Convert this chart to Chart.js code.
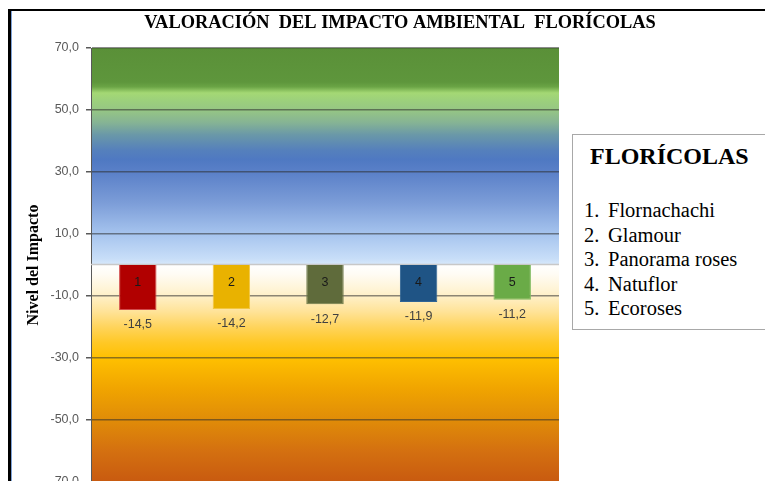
<!DOCTYPE html>
<html>
<head>
<meta charset="utf-8">
<script src="https://cdn.jsdelivr.net/npm/chart.js@4.4.0/dist/chart.umd.min.js"></script>
<style>
html,body{margin:0;padding:0;background:#fff;overflow:hidden;width:765px;height:481px;}
#wrap{position:relative;width:765px;height:481px;overflow:hidden;}
#c{position:absolute;left:0;top:0;}
.frameL{position:absolute;left:8px;top:9px;width:3px;height:480px;background:#000;}
.frameT{position:absolute;left:8px;top:9px;width:760px;height:2px;background:#000;}
.frameB{position:absolute;left:11px;top:11px;width:1px;height:480px;background:#7fa3d8;}
#legend{position:absolute;left:572px;top:134px;width:260px;height:196px;border:1.5px solid #a8a8a8;background:#fff;box-sizing:border-box;font-family:"Liberation Serif","Times New Roman",serif;color:#000;}
#legend .hd{position:absolute;left:17px;top:7px;font-size:24px;font-weight:bold;line-height:28px;white-space:nowrap;}
#legend .items{position:absolute;left:11px;top:63px;font-size:20.5px;line-height:24.6px;white-space:nowrap;}
#legend .num{display:inline-block;width:24px;}
</style>
</head>
<body>
<div id="wrap">
  <canvas id="c" width="765" height="500"></canvas>
  <div class="frameT"></div>
  <div class="frameL"></div>
  <div class="frameB"></div>
  <div id="legend"><div class="hd" id="lgHead"></div><div class="items" id="lgItems"></div></div>
</div>
<script>
const TITLE = 'VALORACIÓN  DEL IMPACTO AMBIENTAL  FLORÍCOLAS';
const Y_TITLE = 'Nivel del Impacto';
const LEGEND_TITLE = 'FLORÍCOLAS';
const categories = ['1', '2', '3', '4', '5'];
const companies = ['Flornachachi', 'Glamour', 'Panorama roses', 'Natuflor', 'Ecoroses'];
const impactValues = [-14.5, -14.2, -12.7, -11.9, -11.2];
const yTicks = [-70, -50, -30, -10, 10, 30, 50, 70];
const barColors = ['#b10000', '#e9b200', '#5f6b3b', '#1f5485', '#6aab47'];
const barBorders = ['#d24a4a', '#f2c640', '#6f7b4b', '#2f6495', '#80bb60'];

const BG_STOPS = [
  [70, '#5a9038'], [59, '#5e963c'], [57.5, '#6aa445'], [55.5, '#a4d874'], [53, '#9cd07c'],
  [50, '#96c684'], [46, '#86b494'], [42, '#6a98a8'], [37, '#5580bc'], [34, '#4f79c2'],
  [30, '#5a80c8'], [20, '#7c9dd8'], [10, '#a6c4ee'], [2, '#c8def8'], [0.3, '#d6e7fa'],
  [0.2, '#ffffff'], [-3, '#fffcf4'], [-10, '#fff0c8'], [-15, '#ffe398'], [-20, '#ffd45c'],
  [-25, '#ffc826'], [-30, '#ffc000'], [-40, '#f0a400'], [-50, '#e08c08'], [-60, '#d47010'],
  [-70, '#c85a10']
];

document.getElementById('lgHead').textContent = LEGEND_TITLE;
document.getElementById('lgItems').innerHTML = companies.map((n, i) =>
  '<div><span class="num">' + categories[i] + '.</span>' + n + '</div>').join('');

const fmt = v => v.toFixed(1).replace('.', ',');

const deco = {
  id: 'deco',
  beforeDraw(chart) {
    const {ctx, chartArea: a, scales: {y}} = chart;
    const g = ctx.createLinearGradient(0, a.top, 0, a.bottom);
    const span = y.max - y.min;
    BG_STOPS.forEach(([v, c]) => g.addColorStop(Math.min(1, Math.max(0, (y.max - v) / span)), c));
    ctx.save();
    ctx.fillStyle = g;
    ctx.fillRect(a.left, a.top, a.right - a.left, a.bottom - a.top);
    ctx.font = 'bold 18.4px "Liberation Serif"';
    ctx.textAlign = 'center';
    ctx.textBaseline = 'middle';
    ctx.fillStyle = '#000';
    ctx.fillText(TITLE, 400, 23);
    ctx.restore();
  },
  beforeDatasetsDraw(chart) {
    const {ctx, chartArea: a, scales: {y}} = chart;
    const y0 = Math.round(y.getPixelForValue(0)) - 0.5;
    ctx.save();
    ctx.strokeStyle = '#c8c8c8';
    ctx.lineWidth = 1.5;
    ctx.beginPath(); ctx.moveTo(a.left, y0); ctx.lineTo(a.right, y0); ctx.stroke();
    ctx.restore();
  },
  afterDatasetsDraw(chart) {
    const {ctx} = chart;
    const meta = chart.getDatasetMeta(0);
    ctx.save();
    ctx.textAlign = 'center';
    ctx.textBaseline = 'middle';
    meta.data.forEach((el, i) => {
      ctx.font = '12.5px "Liberation Sans"';
      ctx.fillStyle = '#1a1a1a';
      ctx.fillText(categories[i], el.x, el.base + 18);
      ctx.fillStyle = '#404040';
      ctx.font = '12.5px "Liberation Sans"';
      ctx.fillText(fmt(impactValues[i]), el.x, el.y + 15);
    });
    ctx.restore();
  }
};

new Chart(document.getElementById('c'), {
  type: 'bar',
  data: {
    labels: categories,
    datasets: [{
      data: impactValues,
      backgroundColor: barColors,
      borderColor: barBorders,
      borderWidth: 1,
      barPercentage: 0.4,
      categoryPercentage: 1.0
    }]
  },
  options: {
    responsive: false,
    animation: false,
    devicePixelRatio: 1,
    layout: {padding: {left: 0, right: 206, top: 48, bottom: 18}},
    plugins: {legend: {display: false}, title: {display: false}, tooltip: {enabled: false}},
    scales: {
      x: {display: false},
      y: {
        min: -70, max: 70,
        afterBuildTicks(s) { s.ticks = yTicks.map(v => ({value: v})); },
        ticks: {callback: v => fmt(v), color: '#595959', font: {family: 'Liberation Sans', size: 12.5}, padding: 7},
        grid: {color: 'rgba(45,45,45,0.55)', lineWidth: 1.5, tickLength: 5, tickColor: '#595959'},
        border: {display: true, color: '#595959', width: 1},
        title: {display: true, text: Y_TITLE, color: '#000', font: {family: 'Liberation Serif', size: 16, weight: 'bold'}, padding: {top: 24, bottom: 0}},
        afterFit(s) { s.width = 91; }
      }
    }
  },
  plugins: [deco]
});
</script>
</body>
</html>
